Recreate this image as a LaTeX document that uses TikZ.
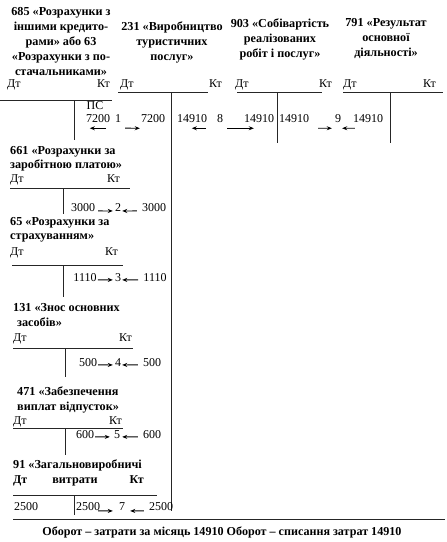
\documentclass[tikz,border=0pt]{standalone}
\usepackage{fontspec}
\setmainfont{Liberation Serif}
\usetikzlibrary{arrows.meta}

\begin{document}
\begin{tikzpicture}[x=1pt, y=-1pt,
    ttl/.style={font=\bfseries\fontsize{12.2}{15}\selectfont, align=center, inner sep=0pt},
    lttl/.style={font=\bfseries\fontsize{12.2}{14.5}\selectfont, align=left, inner sep=0pt, anchor=west},
    side/.style={font=\fontsize{12}{13}\selectfont, inner sep=0pt},
    num/.style={font=\fontsize{12}{13}\selectfont, inner sep=0pt},
    tacc/.style={line width=0.7pt, black!85},
    arr/.style={-{Stealth[length=5pt, width=4pt]}, line width=0.9pt},
    sum/.style={font=\bfseries\fontsize{12.1}{13}\selectfont, inner sep=0pt}
]
\useasboundingbox (0,0) rectangle (447,542);

\node[ttl] (t685) at (61,41) {685 «Розрахунки з\\іншими кредито-\\рами» або 63\\«Розрахунки з по-\\стачальниками»};
\node[ttl] (t231) at (172,42) {231 «Виробництво\\туристичних\\послуг»};
\node[ttl] (t903) at (280,39) {903 «Собівартість\\реалізованих\\робіт і послуг»};
\node[ttl] (t791) at (386,39) {791 «Результат\\основної\\діяльності»};
\node[lttl] (t661) at (10,159) {661 «Розрахунки за\\заробітною платою»};
\node[lttl] (t65) at (10,230) {65 «Розрахунки за\\страхуванням»};
\node[lttl] (t131) at (13,315) {131 «Знос основних\\\hspace{4pt}засобів»};
\node[lttl] (t471) at (17,400) {471 «Забезпечення\\виплат відпусток»};
\node[lttl] (t91) at (13,465) {91 «Загальновиробничі};
\node[ttl, anchor=base] (t91b) at (75,483) {витрати};

\node[side, anchor=base west] (dt685) at (7,87) {Дт};
\node[side, anchor=base east] (kt685) at (110,87) {Кт};
\node[side, anchor=base west] (dt231) at (120,87) {Дт};
\node[side, anchor=base east] (kt231) at (222,87) {Кт};
\node[side, anchor=base west] (dt903) at (235,87) {Дт};
\node[side, anchor=base east] (kt903) at (332,87) {Кт};
\node[side, anchor=base west] (dt791) at (343,87) {Дт};
\node[side, anchor=base east] (kt791) at (436,87) {Кт};
\node[side, anchor=base west] (dt661) at (10,182) {Дт};
\node[side, anchor=base east] (kt661) at (120,182) {Кт};
\node[side, anchor=base west] (dt65) at (10,255) {Дт};
\node[side, anchor=base east] (kt65) at (118,255) {Кт};
\node[side, anchor=base west] (dt131) at (13,341) {Дт};
\node[side, anchor=base east] (kt131) at (132,341) {Кт};
\node[side, anchor=base west] (dt471) at (13,424.5) {Дт};
\node[side, anchor=base east] (kt471) at (122,424.5) {Кт};
\node[side, anchor=base west, font=\bfseries\fontsize{12}{13}\selectfont] (dt91) at (13,483) {Дт};
\node[side, anchor=base east, font=\bfseries\fontsize{12}{13}\selectfont] (kt91) at (144,483) {Кт};

\draw[tacc] (0,100) -- (112,100) (74,100) -- (74,140);
\draw[tacc] (118,92) -- (208,92) (171,92) -- (171,511);
\draw[tacc] (237,92) -- (322,92) (277,92) -- (277,143);
\draw[tacc] (343,92) -- (443,92) (390,92) -- (390,143);
\draw[tacc] (10,188) -- (130,188) (63,188) -- (63,214);
\draw[tacc] (12,265) -- (123,265) (63,265) -- (63,297);
\draw[tacc] (13,348) -- (133,348) (65,348) -- (65,377);
\draw[tacc] (13,428) -- (123,428) (65,428) -- (65,455);
\draw[tacc] (13,495) -- (157,495) (74,495) -- (74,515);

\node[num] (ps) at (95,106) {ПС};
\node[num] (k685) at (98,119) {7200};
\node[num] (op1) at (118,119) {1};
\node[num] (d231) at (153,119) {7200};
\node[num] (k231) at (192,119) {14910};
\node[num] (op8) at (220,119) {8};
\node[num] (d903) at (259,119) {14910};
\node[num] (k903) at (294,119) {14910};
\node[num] (op9) at (338,119) {9};
\node[num] (d791) at (368,119) {14910};

\node[num] (k661) at (83,208) {3000};
\node[num] (op2) at (118,208) {2};
\node[num] (c2) at (154,208) {3000};
\node[num] (k65) at (85,278) {1110};
\node[num] (op3) at (118,278) {3};
\node[num] (c3) at (155,278) {1110};
\node[num] (k131) at (88,363) {500};
\node[num] (op4) at (118,363) {4};
\node[num] (c4) at (152,363) {500};
\node[num] (k471) at (85,435) {600};
\node[num] (op5) at (117,435) {5};
\node[num] (c5) at (152,435) {600};
\node[num] (d91) at (26,507) {2500};
\node[num] (k91) at (88,507) {2500};
\node[num] (op7) at (122,507) {7};
\node[num] (c7) at (161,507) {2500};

\draw[arr] ([xshift=-4pt,yshift=-5pt]k685.south east) -- ([xshift=4pt,yshift=-5pt]k685.south west);
\draw[arr] ([xshift=4pt,yshift=-5pt]op1.south east) -- ([xshift=-1pt,yshift=-5pt]d231.south west);
\draw[arr] ([xshift=-1pt,yshift=-5pt]k231.south east) -- ([xshift=15pt,yshift=-5pt]k231.south west);
\draw[arr] ([xshift=4pt,yshift=-5pt]op8.south east) -- ([xshift=10pt,yshift=-5pt]d903.south west);
\draw[arr] ([xshift=9pt,yshift=-5pt]k903.south east) -- ([xshift=-3pt,yshift=-5pt]op9.south west);
\draw[arr] ([xshift=2pt,yshift=-5pt]d791.south west) -- ([xshift=1pt,yshift=-5pt]op9.south east);

\draw[arr] ([xshift=3pt,yshift=1pt]k661.base east) -- ([xshift=-2pt,yshift=1pt]op2.base west);
\draw[arr] ([xshift=-5pt,yshift=1pt]c2.base west) -- ([xshift=1pt,yshift=1pt]op2.base east);
\draw[arr] ([xshift=1pt,yshift=2pt]k65.base east) -- ([xshift=-2pt,yshift=2pt]op3.base west);
\draw[arr] ([xshift=-5pt,yshift=2pt]c3.base west) -- ([xshift=1pt,yshift=2pt]op3.base east);
\draw[arr] ([xshift=1pt,yshift=2pt]k131.base east) -- ([xshift=-2pt,yshift=2pt]op4.base west);
\draw[arr] ([xshift=-5pt,yshift=2pt]c4.base west) -- ([xshift=1pt,yshift=2pt]op4.base east);
\draw[arr] ([xshift=1pt,yshift=2pt]k471.base east) -- ([xshift=-4pt,yshift=2pt]op5.base west);
\draw[arr] ([xshift=-5pt,yshift=2pt]c5.base west) -- ([xshift=2pt,yshift=2pt]op5.base east);
\draw[arr] ([xshift=-2pt,yshift=0pt]k91.base east) -- ([xshift=-6pt,yshift=0pt]op7.base west);
\draw[arr] ([xshift=-5pt,yshift=0pt]c7.base west) -- ([xshift=5pt,yshift=0pt]op7.base east);

\draw[tacc] (13,519) -- (445,519);
\node[sum] (turnover) at (222,532) {Оборот – затрати за місяць 14910 Оборот – списання затрат 14910};
\end{tikzpicture}
\end{document}
